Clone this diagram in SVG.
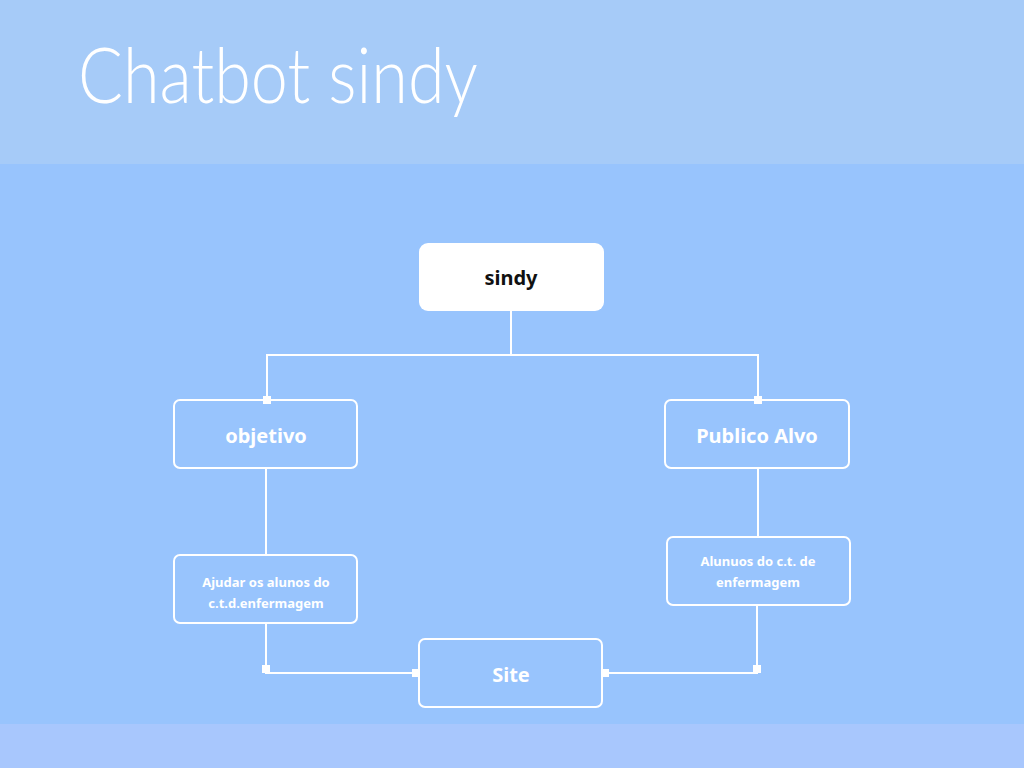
<svg xmlns="http://www.w3.org/2000/svg" width="1024" height="768" viewBox="0 0 1024 768">
<style>
.box{fill:none;stroke:#ffffff;stroke-width:2}
.lbl{font-family:"Noto Sans","Open Sans",sans-serif;font-weight:700;fill:#ffffff;text-anchor:middle}
.big{font-size:20px}
.small{font-size:13px}
.conn{fill:none;stroke:#ffffff;stroke-width:2}
.dot{fill:#ffffff}
</style>
<rect x="0" y="0" width="1024" height="164" fill="#a6cbf8"/>
<rect x="0" y="164" width="1024" height="560" fill="#98c4fd"/>
<rect x="0" y="724" width="1024" height="44" fill="#a8c7fd"/>
<text x="78" y="103" font-family="Lato, Inter, sans-serif" font-weight="300" font-size="76" fill="#ffffff" textLength="400" lengthAdjust="spacingAndGlyphs">Chatbot sindy</text>
<g id="connectors">
<polyline class="conn" points="511,311 511,355 267,355 267,400"/>
<polyline class="conn" points="511,355 758,355 758,400"/>
<line class="conn" x1="266" y1="468" x2="266" y2="555"/>
<line class="conn" x1="758" y1="468" x2="758" y2="537"/>
<polyline class="conn" points="266,623 266,673 419,673"/>
<polyline class="conn" points="757,605 757,673 602,673"/>
<rect class="dot" x="263" y="396" width="8" height="8"/>
<rect class="dot" x="754" y="396" width="8" height="8"/>
<rect class="dot" x="262" y="665" width="8" height="8"/>
<rect class="dot" x="753" y="665" width="8" height="8"/>
<rect class="dot" x="412" y="669" width="7" height="8"/>
<rect class="dot" x="602" y="669" width="7" height="8"/>
</g>
<g id="sindy">
<rect x="419" y="243" width="185" height="68" rx="9" fill="#ffffff"/>
<text x="511" y="285" class="lbl big" style="fill:#111111">sindy</text>
</g>
<g id="objetivo">
<rect class="box" x="174" y="400" width="183" height="68" rx="6"/>
<text x="266" y="443" class="lbl big">objetivo</text>
</g>
<g id="publico">
<rect class="box" x="665" y="400" width="184" height="68" rx="6"/>
<text x="757" y="443" class="lbl big">Publico Alvo</text>
</g>
<g id="ajudar">
<rect class="box" x="174" y="555" width="183" height="68" rx="6"/>
<text x="266" y="587" class="lbl small">Ajudar os alunos do</text>
<text x="266" y="608" class="lbl small">c.t.d.enfermagem</text>
</g>
<g id="alunuos">
<rect class="box" x="667" y="537" width="183" height="68" rx="6"/>
<text x="758" y="566" class="lbl small">Alunuos do c.t. de</text>
<text x="758" y="587" class="lbl small">enfermagem</text>
</g>
<g id="site">
<rect class="box" x="419" y="639" width="183" height="68" rx="6"/>
<text x="511" y="682" class="lbl big">Site</text>
</g>
</svg>
